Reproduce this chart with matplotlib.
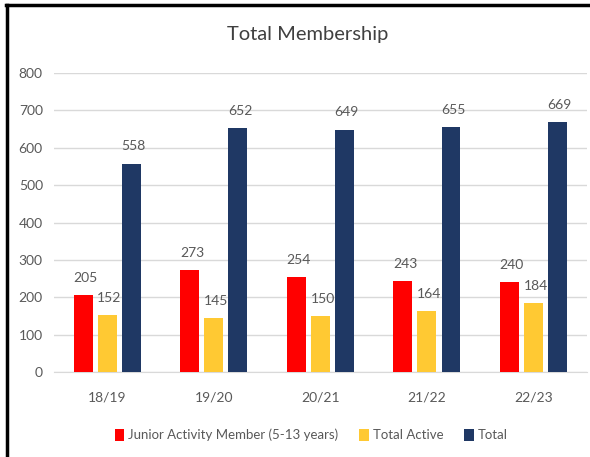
import numpy as np
import matplotlib.pyplot as plt
from matplotlib.lines import Line2D

seasons = ['18/19', '19/20', '20/21', '21/22', '22/23']
junior = [205, 273, 254, 243, 240]
active = [152, 145, 150, 164, 184]
total = [558, 652, 649, 655, 669]

series = [
    ('Junior Activity Member (5-13 years)', junior, '#FF0000'),
    ('Total Active', active, '#FFC933'),
    ('Total', total, '#1F3864'),
]

plt.rcParams['font.family'] = ['Lato', 'DejaVu Sans']
text_color = '#595959'

fig = plt.figure(figsize=(5.9, 4.57), dpi=100)
ax = fig.add_axes([0.0915, 0.186, 0.903, 0.654])

x = np.arange(len(seasons))
width = 0.178
step = 0.226
for i, (name, vals, color) in enumerate(series):
    pos = x + (i - 1) * step
    ax.bar(pos, vals, width, color=color, label=name, zorder=3)
    for px, v in zip(pos, vals):
        ax.text(px + 0.02, v + 30, str(v), ha='center', va='bottom',
                fontsize=10, color=text_color)

ax.set_xlim(-0.5, 4.5)
ax.set_ylim(0, 800)
ax.set_yticks(range(0, 801, 100))
ax.set_xticks(x)
ax.set_xticklabels(seasons)
ax.tick_params(axis='both', length=0, labelsize=10, colors=text_color)
ax.tick_params(axis='x', pad=14)
ax.tick_params(axis='y', pad=8)
ax.grid(axis='y', color='#D9D9D9', linewidth=1, zorder=0)
for side in ['top', 'right', 'left']:
    ax.spines[side].set_visible(False)
ax.spines['bottom'].set_color('#D9D9D9')

fig.text(0.522, 0.925, 'Total Membership', ha='center', va='center',
         fontsize=14.5, color='#404040')

ax.legend(loc='upper center', bbox_to_anchor=(0.483, -0.15), ncol=3,
          frameon=False, fontsize=9.5, labelcolor=text_color,
          handlelength=0.7, handleheight=1.0, handletextpad=0.3,
          columnspacing=1.6)

# black frame lines (top and left) as in the reference screenshot
fig.add_artist(Line2D([0.011, 0.998], [0.988, 0.988], color='black',
                      linewidth=2.5, transform=fig.transFigure))
fig.add_artist(Line2D([0.012, 0.012], [0.0, 0.988], color='black',
                      linewidth=2.5, transform=fig.transFigure))

fig.savefig('out.png', dpi=100)
